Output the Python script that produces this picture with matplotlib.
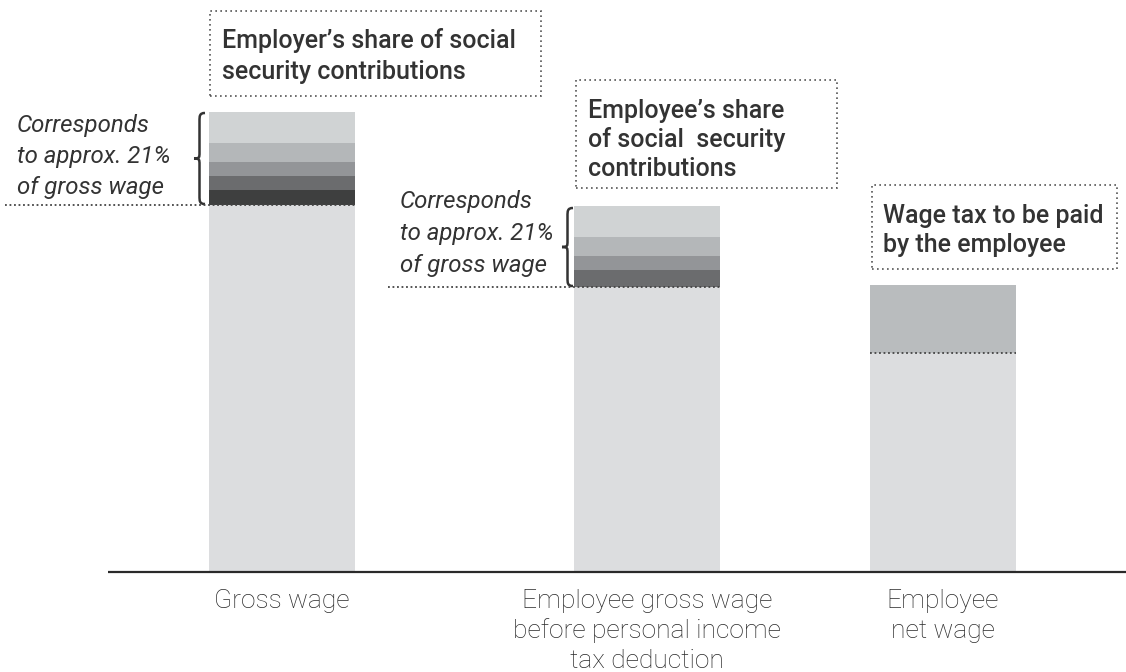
import numpy as np
import matplotlib.pyplot as plt
from matplotlib.patches import Rectangle, PathPatch
from matplotlib.path import Path

# values (arbitrary units, bars start at 0)
labels = ["Gross wage",
          "Employee gross wage\nbefore personal income\ntax deduction",
          "Employee\nnet wage"]
base = [367, 285, 219]
employer_parts = [15, 14, 14, 19, 31]      # bottom -> top
employee_parts = [17, 14, 19, 31]          # bottom -> top
wage_tax = 68

xpos = [281.5, 647, 942.5]
width = 146

c_base = '#dcdddf'
c_layers = ['#3e3f3f', '#6b6c6e', '#939598', '#b4b7b9', '#d0d3d4']
c_tax = '#b9bcbe'
c_text = '#333333'

fig = plt.figure(figsize=(11.26, 6.72), dpi=100)
ax = fig.add_axes([0, 100/672, 1, 572/672])
ax.set_xlim(0, 1126)
ax.set_ylim(0, 572)
ax.axis('off')

# bars
ax.bar(xpos, base, width=width, color=c_base, linewidth=0)

bottom = base[0]
for h, c in zip(employer_parts, c_layers):
    ax.bar(xpos[0], h, bottom=bottom, width=width, color=c, linewidth=0)
    bottom += h

bottom = base[1]
for h, c in zip(employee_parts, c_layers[1:]):
    ax.bar(xpos[1], h, bottom=bottom, width=width, color=c, linewidth=0)
    bottom += h

ax.bar(xpos[2], wage_tax, bottom=base[2], width=width, color=c_tax, linewidth=0)

# axis line
ax.plot([108, 1126], [0, 0], color='#2a2a2a', lw=1.6, solid_capstyle='butt', clip_on=False)

# dotted guide lines at top of base part
dot = dict(color='#444444', lw=1.3, linestyle=(0, (1, 1.5)), clip_on=False)
ax.plot([5, xpos[0] + width/2], [base[0], base[0]], **dot)
ax.plot([388, xpos[1] + width/2], [base[1], base[1]], **dot)
ax.plot([xpos[2] - width/2, xpos[2] + width/2], [base[2], base[2]], **dot)


def brace(x, y0, y1, w):
    # curly brace, tip pointing left
    ym = (y0 + y1) / 2
    k = w * 0.5
    verts = [(x + w, y1), (x + k, y1), (x + k, y1 - 3), (x + k, y1 - 8),
             (x + k, ym + 6), (x + k, ym + 1), (x + k, ym), (x, ym),
             (x + k, ym), (x + k, ym - 1), (x + k, ym - 6),
             (x + k, y0 + 8), (x + k, y0 + 3), (x + k, y0), (x + w, y0)]
    codes = [Path.MOVETO, Path.CURVE4, Path.CURVE4, Path.CURVE4,
             Path.LINETO, Path.CURVE4, Path.CURVE4, Path.CURVE4,
             Path.CURVE4, Path.CURVE4, Path.CURVE4,
             Path.LINETO, Path.CURVE4, Path.CURVE4, Path.CURVE4]
    ax.add_patch(PathPatch(Path(verts, codes), fill=False, ec=c_text, lw=1.8,
                           clip_on=False))


top1 = base[0] + sum(employer_parts)
top2 = base[1] + sum(employee_parts)
brace(194, base[0] + 1, top1 - 1, 11)
brace(562, base[1] + 1, top2 - 2, 11)


def lines(x, y, rows, step, **kw):
    for i, r in enumerate(rows):
        ax.text(x, y - i * step, r, va='baseline', ha='left', color=c_text, **kw)


box_kw = dict(fontsize=18, fontfamily='Roboto', fontweight='medium')
it_kw = dict(fontsize=17.3, fontfamily='Roboto', fontstyle='italic', fontweight='normal')

# dotted boxes
boxes = [(210, 476, 331, 85), (576, 384, 261, 108), (872, 303, 245, 84)]
for bx, by, bw, bh in boxes:
    ax.add_patch(Rectangle((bx, by), bw, bh, fill=False, ec='#555555', lw=1.2,
                           linestyle=(0, (1, 2)), clip_on=False))

lines(222, 572 - 48, ["Employer\u2019s share of social", "security contributions"], 31, **box_kw)
lines(588, 572 - 118, ["Employee\u2019s share", "of social  security", "contributions"], 29, **box_kw)
lines(883, 572 - 223, ["Wage tax to be paid", "by the employee"], 29, **box_kw)

ann = ["Corresponds", "to approx. 21%", "of gross wage"]
lines(17, 572 - 132, ann, 31, **it_kw)
lines(400, 572 - 208, ann, 32, **it_kw)

# category labels
for x, lab in zip(xpos, labels):
    for i, r in enumerate(lab.split('\n')):
        ax.text(x, -36 - i * 30, r, ha='center', va='baseline', color='#2a2a2a',
                fontsize=19, fontfamily='Roboto', fontweight='light', clip_on=False)

fig.savefig('out.png', dpi=100)
